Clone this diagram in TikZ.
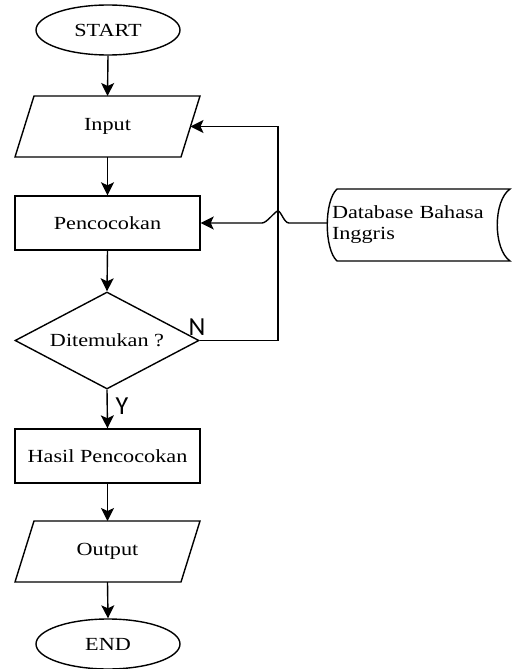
\documentclass[tikz,border=0pt]{standalone}
\usepackage{fontspec}
\setmainfont{Liberation Serif}[FakeStretch=1.2]
\newfontfamily\labelfont{Carlito}
\usetikzlibrary{shapes.geometric,arrows.meta,calc}

\begin{document}
\begin{tikzpicture}[x=1pt,y=-1pt,
  every node/.style={font=\fontsize{18.5}{21}\selectfont, text=black, inner sep=0pt},
  line/.style={draw=black, line width=1.4pt},
  arrow/.style={line, -{Stealth[length=13pt,width=13pt,inset=3pt]}},
  terminal/.style={ellipse, draw, line width=1.4pt, minimum width=144pt, minimum height=50pt},
  iobox/.style={rectangle, draw=none, outer sep=0pt, minimum width=185pt, minimum height=61pt},
  process/.style={rectangle, draw, line width=1.4pt, minimum width=185pt, minimum height=54pt},
  decision/.style={diamond, draw, line width=1.4pt, shape aspect=2, minimum width=184pt, minimum height=97pt},
  storage/.style={rectangle, draw=none, outer sep=0pt, inner xsep=5pt, text width=173pt,
    align=left, minimum width=183pt, minimum height=72pt},
  branch/.style={font=\labelfont\fontsize{26}{26}\selectfont}
]
\useasboundingbox (0,0) rectangle (512,669);

% main flow
\node[terminal] (start) at (108,30) {START};
\node[iobox] (in) at (107.5,126.5) {Input};
\node[process] (pen) at (107.5,223) {Pencocokan};
\node[decision] (dec) at (107,340.5) {Ditemukan ?};
\node[process] (hasil) at (107.5,456) {Hasil Pencocokan};
\node[iobox] (out) at (107.5,551.5) {Output};
\node[terminal] (end) at (108,644) {END};

% parallelogram outlines of the input/output boxes
\foreach \n in {in,out}{
  \draw[line] ($(\n.north west)+(19,0)$) -- (\n.north east)
    -- ($(\n.south east)+(-19,0)$) -- (\n.south west) -- cycle;
}
\coordinate (inR) at ($(in.east)+(-9.5,0)$);

% stored data
\node[storage] (db) at (418.5,225) {Database Bahasa\\Inggris};
\draw[line] ($(db.north west)+(10,0)$) -- (db.north east)
  .. controls ($(db.north east)+(-17,12)$) and ($(db.south east)+(-17,-12)$) .. (db.south east)
  -- ($(db.south west)+(10,0)$)
  .. controls ($(db.south west)+(-3,-12)$) and ($(db.north west)+(-3,12)$) .. cycle;

% x position of the feedback line
\coordinate (fb) at (278,0);

\draw[arrow] (start.south) -- (in.north);
\draw[arrow] (in.south) -- (pen.north);
\draw[arrow] (pen.south) -- (dec.north);
\draw[arrow] (dec.south) -- (hasil.north);
\draw[arrow] (hasil.south) -- (out.north);
\draw[arrow] (out.south) -- (end.north);

% "not found" loop back to input
\draw[arrow] (dec.east) -- (dec.east -| fb) -- (inR -| fb) -- (inR);

% database feed, hopping over the loop line
\draw[arrow] (pen.east -| db.west) -- ($(pen.east -| fb)+(11,0)$)
  .. controls +(-5,0) and +(3,0) .. ($(pen.east -| fb)+(0,-12)$)
  .. controls +(-3,0) and +(5,0) .. ($(pen.east -| fb)+(-16,0)$)
  -- (pen.east);

% branch labels
\node[branch] (nlab) at (197,327) {N};
\node[branch] (ylab) at (122,406) {Y};
\end{tikzpicture}
\end{document}
